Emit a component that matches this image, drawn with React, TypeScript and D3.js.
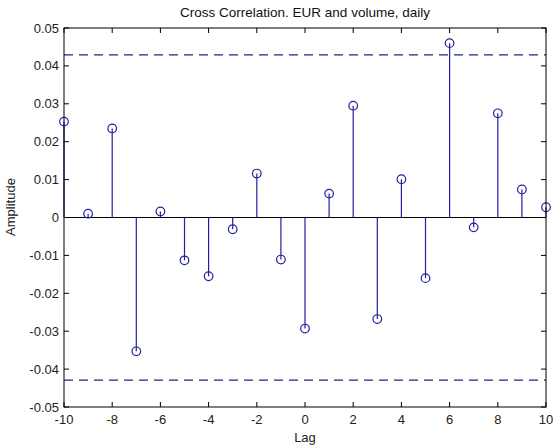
import React from "react";
import * as d3 from "d3";

const lags = [-10, -9, -8, -7, -6, -5, -4, -3, -2, -1, 0, 1, 2, 3, 4, 5, 6, 7, 8, 9, 10];
const xcorrValues = [
  0.0253, 0.0010, 0.0235, -0.0353, 0.0016, -0.0113, -0.0155, -0.0031, 0.0116, -0.0111,
  -0.0293, 0.0063, 0.0295, -0.0268, 0.0101, -0.0160, 0.0460, -0.0026, 0.0275, 0.0074, 0.0027,
];
const confBound = 0.0429;
const xTicks = [-10, -8, -6, -4, -2, 0, 2, 4, 6, 8, 10];
const yTicks = [-0.05, -0.04, -0.03, -0.02, -0.01, 0, 0.01, 0.02, 0.03, 0.04, 0.05];
const titleText = "Cross Correlation. EUR and volume, daily";
const xLabel = "Lag";
const yLabel = "Amplitude";

const W = 553;
const H = 448;
const L = 64, R = 546, T = 28, B = 407;
const STEM = "#22229a";
const FONT = "'Liberation Sans', Arial, sans-serif";

export default function App() {
  const x = d3.scaleLinear().domain([-10, 10]).range([L, R]);
  const y = d3.scaleLinear().domain([-0.05, 0.05]).range([B, T]);
  const fmtY = (v: number) => {
    const r = Math.round(v * 100) / 100;
    return r === 0 ? "0" : String(r);
  };
  const tl = 5;
  return (
    <svg width={W} height={H} style={{ position: "absolute", left: 0, top: 0, background: "#fff" }}>
      <rect x={0} y={0} width={W} height={H} fill="#fff" />
      {[confBound, -confBound].map((c, i) => (
        <line key={"cb" + i} x1={L} x2={R} y1={y(c)} y2={y(c)} stroke={STEM} strokeWidth={1.2} strokeDasharray="9,6" />
      ))}
      <line x1={L} x2={R} y1={y(0)} y2={y(0)} stroke="#000" strokeWidth={1} />
      {lags.map((l, i) => (
        <g key={"s" + i}>
          <line x1={x(l)} x2={x(l)} y1={y(0)} y2={y(xcorrValues[i])} stroke={STEM} strokeWidth={1.2} />
          <circle cx={x(l)} cy={y(xcorrValues[i])} r={4.3} fill="none" stroke={STEM} strokeWidth={1.2} />
        </g>
      ))}
      <rect x={L} y={T} width={R - L} height={B - T} fill="none" stroke="#000" strokeWidth={1} />
      {xTicks.map((t) => (
        <g key={"xt" + t}>
          <line x1={x(t)} x2={x(t)} y1={B} y2={B - tl} stroke="#000" />
          <line x1={x(t)} x2={x(t)} y1={T} y2={T + tl} stroke="#000" />
          <text x={x(t)} y={B + 17} textAnchor="middle" fontFamily={FONT} fontSize={13} fill="#222">
            {t}
          </text>
        </g>
      ))}
      {yTicks.map((t) => (
        <g key={"yt" + t}>
          <line x1={L} x2={L + tl} y1={y(t)} y2={y(t)} stroke="#000" />
          <line x1={R} x2={R - tl} y1={y(t)} y2={y(t)} stroke="#000" />
          <text x={L - 5} y={y(t) + 4.5} textAnchor="end" fontFamily={FONT} fontSize={13} fill="#222">
            {fmtY(t)}
          </text>
        </g>
      ))}
      <text x={(L + R) / 2} y={17} textAnchor="middle" fontFamily={FONT} fontSize={13.5} fill="#111">
        {titleText}
      </text>
      <text x={(L + R) / 2} y={442} textAnchor="middle" fontFamily={FONT} fontSize={13} fill="#222">
        {xLabel}
      </text>
      <text
        transform={`translate(15, 207) rotate(-90)`}
        textAnchor="middle"
        fontFamily={FONT}
        fontSize={13}
        fill="#222"
      >
        {yLabel}
      </text>
    </svg>
  );
}
